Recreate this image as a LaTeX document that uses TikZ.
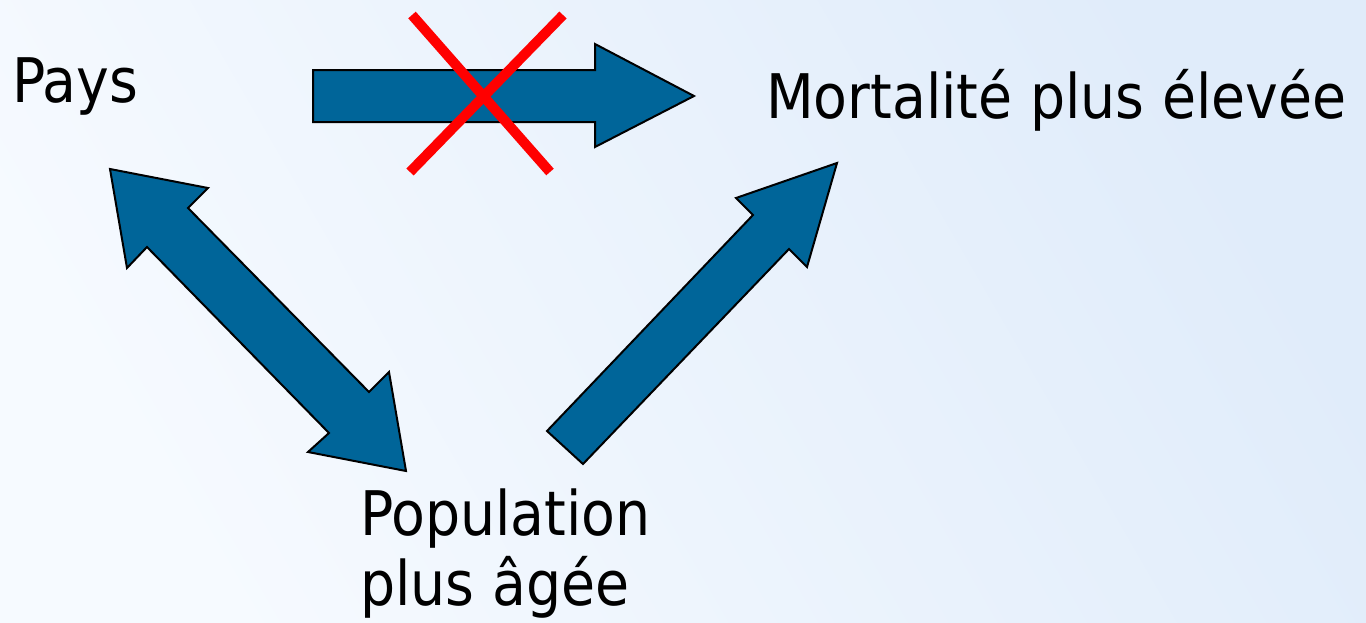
\documentclass[tikz,border=0pt]{standalone}
\usepackage{fontspec}
\setmainfont{DejaVu Sans Condensed}
\definecolor{arrowblue}{RGB}{0,101,153}
\definecolor{bgA}{RGB}{246,250,255}
\definecolor{bgB}{RGB}{224,236,250}
\begin{document}
\begin{tikzpicture}[x=1pt,y=-1pt,
  blockarrow/.style={fill=arrowblue,draw=black,line width=2pt,line join=miter},
  cross/.style={draw=red,line width=10pt},
  label/.style={anchor=base west,inner sep=0pt,font=\fontsize{61.5}{70}\selectfont,text=black}]
\shade[shading=axis,left color=bgA,right color=bgB,shading angle=120] (0,0) rectangle (1366,622);
\useasboundingbox (0,0) rectangle (1366,622);
\node[label] (pays) at (12,102) {Pays};
\node[label] (mort) at (766,118) {Mortalité plus élevée};
\node[label] (pop1) at (360,535) {Population};
\node[label] (pop2) at (360,605) {plus âgée};
% horizontal arrow
\draw[blockarrow] (313,70) -- (595,70) -- (595,44) -- (694,96) -- (595,147) -- (595,122) -- (313,122) -- cycle;
% red cross
\draw[cross] (412,15) -- (550,172);
\draw[cross] (563,15) -- (410,172);
% double arrow
\draw[blockarrow] (110,169) -- (208,188) -- (188,208) -- (369,392) -- (389,372) -- (406,471)
  -- (308,452) -- (329,433) -- (147,247) -- (127,268) -- cycle;
% up-right arrow
\draw[blockarrow] (547,431) -- (753,215) -- (736,198) -- (837,163) -- (807,267) -- (789,249) -- (583,464) -- cycle;
\end{tikzpicture}
\end{document}
